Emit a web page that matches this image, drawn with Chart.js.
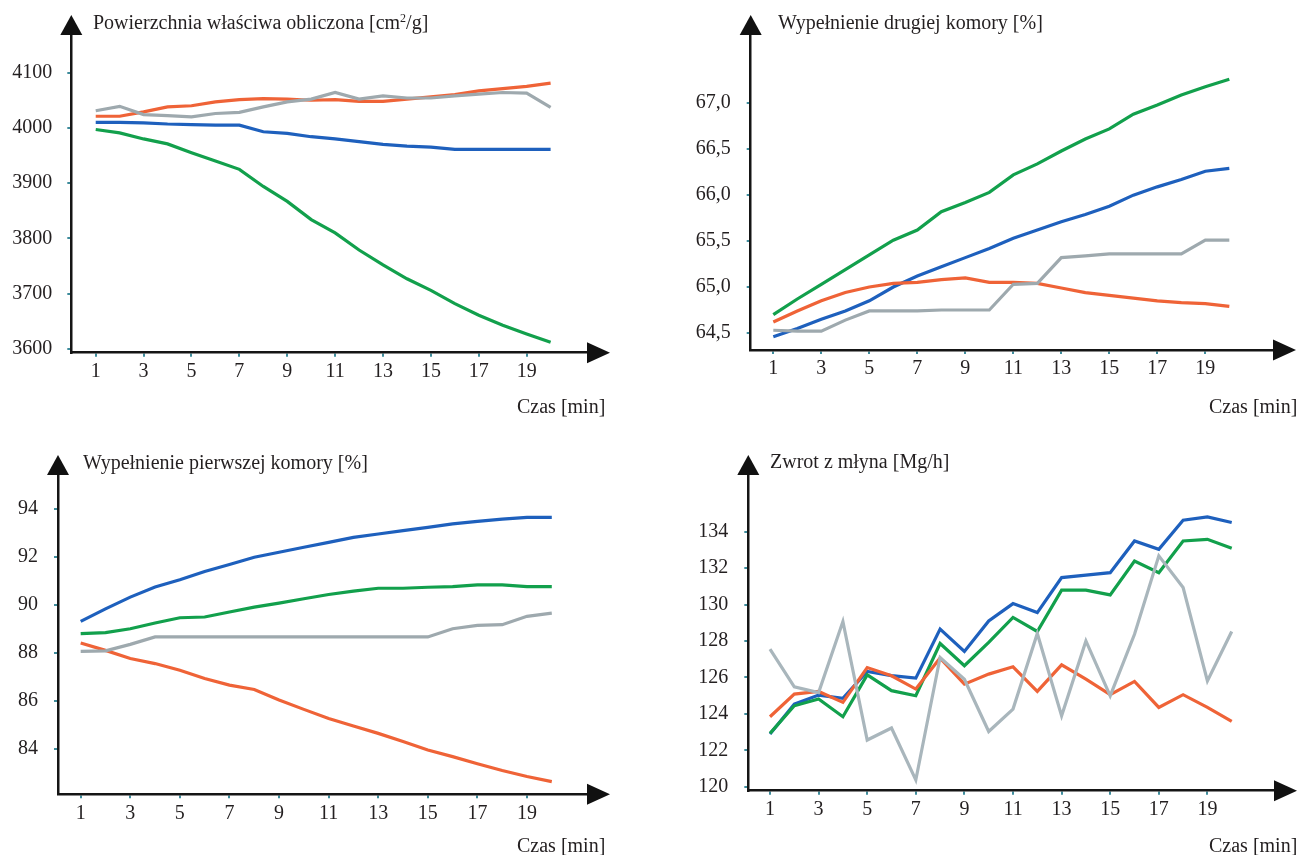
<!DOCTYPE html>
<html>
<head>
<meta charset="utf-8">
<script src="https://cdn.jsdelivr.net/npm/chart.js@4.4.1/dist/chart.umd.min.js"></script>
<style>
  html, body { margin:0; padding:0; background:#ffffff; }
  body { width:1300px; height:855px; position:relative; overflow:hidden; font-family:'Liberation Serif','Times New Roman',serif; color:#231f20; }
  canvas { position:absolute; }
  .lbl { position:absolute; font-size:20px; line-height:22px; white-space:nowrap; color:#231f20; }
  .lbl sup { font-size:12px; vertical-align:7px; line-height:0; }
</style>
</head>
<body>
<canvas id="c1" width="620" height="430" style="left:0px;top:0px;width:620px;height:430px"></canvas>
<canvas id="c2" width="640" height="430" style="left:660px;top:0px;width:640px;height:430px"></canvas>
<canvas id="c3" width="620" height="415" style="left:0px;top:440px;width:620px;height:415px"></canvas>
<canvas id="c4" width="640" height="415" style="left:660px;top:440px;width:640px;height:415px"></canvas>

<div class="lbl" style="left:93px;top:11px">Powierzchnia właściwa obliczona [cm<sup>2</sup>/g]</div>
<div class="lbl" style="left:778px;top:11px">Wypełnienie drugiej komory [%]</div>
<div class="lbl" style="left:83px;top:451px">Wypełnienie pierwszej komory [%]</div>
<div class="lbl" style="left:770px;top:450px">Zwrot z młyna [Mg/h]</div>
<div class="lbl" style="left:517px;top:395px">Czas [min]</div>
<div class="lbl" style="left:1209px;top:395px">Czas [min]</div>
<div class="lbl" style="left:517px;top:834px">Czas [min]</div>
<div class="lbl" style="left:1209px;top:834px">Czas [min]</div>

<script>
// ---- data ----
const minutes = [1,2,3,4,5,6,7,8,9,10,11,12,13,14,15,16,17,18,19,20];
const xTickValues = [1,3,5,7,9,11,13,15,17,19];

// Panel 1: Powierzchnia właściwa obliczona [cm2/g]
const p1Ticks = [3600,3700,3800,3900,4000,4100];
const p1Blue   = [4010,4010,4009,4007,4006,4005,4005,3993,3990,3984,3980,3975,3970,3967,3965,3961,3961,3961,3961,3961];
const p1Green  = [3997,3991,3980,3971,3955,3940,3925,3894,3867,3834,3810,3779,3752,3727,3706,3682,3661,3643,3627,3612];
const p1Orange = [4021,4021,4029,4038,4040,4047,4051,4053,4052,4050,4051,4048,4048,4052,4056,4060,4067,4071,4075,4081];
const p1Gray   = [4031,4039,4024,4022,4020,4026,4028,4038,4047,4052,4064,4052,4058,4054,4054,4058,4061,4064,4063,4037];

// Panel 2: Wypełnienie drugiej komory [%]
const p2Ticks = [64.5,65.0,65.5,66.0,66.5,67.0];
const p2Green  = [64.70,64.87,65.03,65.19,65.35,65.51,65.62,65.82,65.92,66.03,66.22,66.34,66.48,66.61,66.72,66.88,66.98,67.09,67.18,67.26];
const p2Blue   = [64.46,64.55,64.65,64.74,64.85,65.00,65.12,65.22,65.32,65.42,65.53,65.62,65.71,65.79,65.88,66.00,66.09,66.17,66.26,66.29];
const p2Orange = [64.62,64.74,64.85,64.94,65.00,65.04,65.05,65.08,65.10,65.05,65.05,65.04,64.99,64.94,64.91,64.88,64.85,64.83,64.82,64.79];
const p2Gray   = [64.53,64.52,64.52,64.64,64.74,64.74,64.74,64.75,64.75,64.75,65.03,65.04,65.32,65.34,65.36,65.36,65.36,65.36,65.51,65.51];

// Panel 3: Wypełnienie pierwszej komory [%]
const p3Ticks = [84,86,88,90,92,94];
const p3Blue   = [89.32,89.84,90.33,90.75,91.05,91.40,91.69,91.99,92.20,92.41,92.61,92.82,92.96,93.10,93.24,93.38,93.49,93.58,93.65,93.65];
const p3Green  = [88.81,88.85,89.01,89.25,89.47,89.50,89.71,89.91,90.08,90.26,90.44,90.58,90.70,90.70,90.74,90.77,90.84,90.84,90.77,90.77];
const p3Gray   = [88.07,88.09,88.36,88.67,88.67,88.67,88.67,88.67,88.67,88.67,88.67,88.67,88.67,88.67,88.67,89.01,89.15,89.18,89.53,89.66];
const p3Orange = [88.42,88.11,87.77,87.56,87.28,86.94,86.66,86.48,86.04,85.65,85.27,84.96,84.65,84.31,83.96,83.68,83.38,83.10,82.85,82.64];

// Panel 4: Zwrot z młyna [Mg/h]
const p4Ticks = [120,122,124,126,128,130,132,134];
const p4Blue   = [122.89,124.53,125.03,124.85,126.33,126.10,125.96,128.65,127.42,129.10,130.05,129.56,131.48,131.61,131.75,133.49,133.03,134.63,134.81,134.50];
const p4Green  = [122.93,124.44,124.81,123.84,126.14,125.27,124.99,127.86,126.64,127.92,129.29,128.52,130.79,130.79,130.53,132.39,131.75,133.49,133.58,133.09];
const p4Orange = [123.84,125.08,125.23,124.63,126.54,126.09,125.36,127.06,125.63,126.18,126.58,125.23,126.69,125.90,125.05,125.78,124.35,125.05,124.35,123.58];
const p4Gray   = [127.55,125.48,125.17,129.07,122.56,123.22,120.37,127.09,125.90,123.03,124.26,128.41,123.89,128.00,124.99,128.37,132.67,130.93,125.81,128.52];

// ---- styling ----
const COL = { blue:'#1e60bd', green:'#12a04c', orange:'#ef6337', gray:'#9ea9ae', gray4:'#a9b6bc' };
const FONT = { family:"'Liberation Serif','Times New Roman',serif", size:20 };

function pts(arr){ return arr.map((v,i)=>({x:minutes[i], y:v})); }
function ds(arr, color){
  return { data: pts(arr), borderColor: color, borderWidth: 3.2, pointRadius: 0, tension: 0, fill:false };
}

const arrowPlugin = {
  id:'arrows',
  afterDraw(chart){
    const a = chart.chartArea, c = chart.ctx;
    c.save();
    c.fillStyle = '#111';
    c.beginPath();
    c.moveTo(a.left - 11, a.top);
    c.lineTo(a.left + 11, a.top);
    c.lineTo(a.left, a.top - 20);
    c.closePath(); c.fill();
    c.beginPath();
    c.moveTo(a.right, a.bottom - 10.5);
    c.lineTo(a.right, a.bottom + 10.5);
    c.lineTo(a.right + 23, a.bottom);
    c.closePath(); c.fill();
    c.restore();
  }
};

function makeChart(id, cfg){
  const cvs = document.getElementById(id);
  const W = cvs.width, H = cvs.height;
  return new Chart(cvs, {
    type:'line',
    data:{ datasets: cfg.datasets },
    options:{
      responsive:false, animation:false, devicePixelRatio:1,
      layout:{ padding:{ left:0, top:cfg.top, right: W - cfg.right, bottom:0 } },
      plugins:{ legend:{display:false}, tooltip:{enabled:false} },
      scales:{
        x:{
          type:'linear', min:cfg.xmin, max:cfg.xmax,
          afterFit(s){ s.height = H - cfg.bottom; },
          afterBuildTicks(s){ s.ticks = xTickValues.map(v=>({value:v})); },
          ticks:{ font:FONT, color:'#231f20', padding:cfg.xpad, maxRotation:0, autoSkip:false,
                  callback:(v)=>String(v) },
          grid:{ display:true, drawOnChartArea:false, drawTicks:true, tickLength:4, color:'#3e8c9c', lineWidth:2 },
          border:{ display:true, color:'#151515', width:2.5 }
        },
        y:{
          type:'linear', min:cfg.ymin, max:cfg.ymax,
          afterFit(s){ s.width = cfg.left; },
          afterBuildTicks(s){ s.ticks = cfg.yticks.map(v=>({value:v})); },
          ticks:{ font:FONT, color:'#231f20', padding:cfg.ypad, autoSkip:false,
                  callback: cfg.fmt },
          grid:{ display:true, drawOnChartArea:false, drawTicks:true, tickLength:4, color:'#3e8c9c', lineWidth:2 },
          border:{ display:true, color:'#151515', width:2.5 }
        }
      }
    },
    plugins:[arrowPlugin]
  });
}

const intFmt = (v)=>String(v);
const decFmt = (v)=>v.toFixed(1).replace('.', ',');

makeChart('c1', {
  left:71.3, top:35, right:587, bottom:352.7,
  xmin:-0.02, xmax:21.52, ymin:3593.3, ymax:4168,
  yticks:p1Ticks, fmt:intFmt, ypad:15, xpad:3,
  datasets:[ ds(p1Gray,COL.gray), ds(p1Orange,COL.orange), ds(p1Green,COL.green), ds(p1Blue,COL.blue) ]
});
makeChart('c2', {
  left:90.7, top:35, right:613, bottom:350,
  xmin:0.058, xmax:21.82, ymin:64.315, ymax:67.742,
  yticks:p2Ticks, fmt:decFmt, ypad:16, xpad:3,
  datasets:[ ds(p2Gray,COL.gray), ds(p2Orange,COL.orange), ds(p2Blue,COL.blue), ds(p2Green,COL.green) ]
});
makeChart('c3', {
  left:58, top:35, right:587, bottom:354.3,
  xmin:0.085, xmax:21.42, ymin:82.11, ymax:95.42,
  yticks:p3Ticks, fmt:intFmt, ypad:16, xpad:3,
  datasets:[ ds(p3Gray,COL.gray), ds(p3Orange,COL.orange), ds(p3Green,COL.green), ds(p3Blue,COL.blue) ]
});
makeChart('c4', {
  left:88.3, top:35, right:614, bottom:350.7,
  xmin:0.107, xmax:21.74, ymin:119.78, ymax:137.11,
  yticks:p4Ticks, fmt:intFmt, ypad:16, xpad:3,
  datasets:[ ds(p4Gray,COL.gray4), ds(p4Orange,COL.orange), ds(p4Green,COL.green), ds(p4Blue,COL.blue) ]
});
</script>
</body>
</html>
